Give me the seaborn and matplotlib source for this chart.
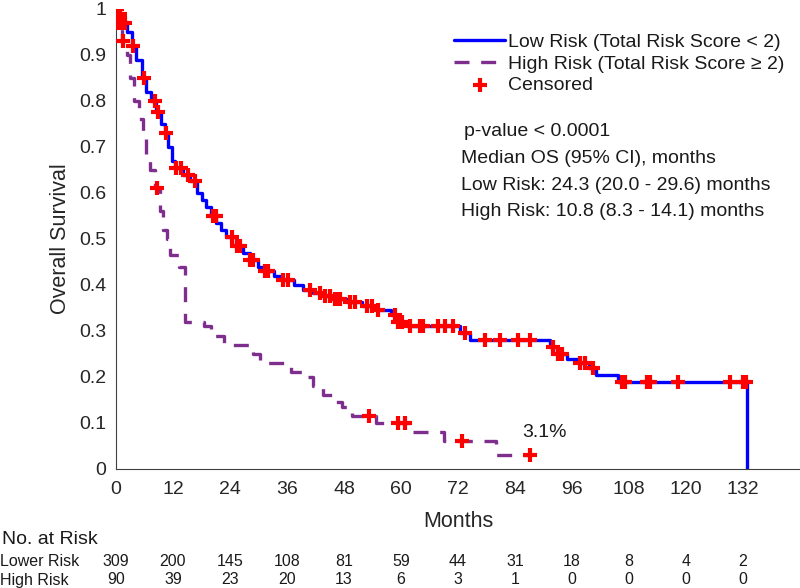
import numpy as np
import pandas as pd
import matplotlib
matplotlib.use("Agg")
import matplotlib.pyplot as plt
import matplotlib.transforms as mtransforms
import seaborn as sns

# Kaplan-Meier steps (months, survival after step)
low_t = [0, 0.5, 1.3, 2.3, 3.3, 4.3, 5.4, 6.4, 7.4, 8.4, 9.4, 10.4, 10.9, 11.8, 12.5,
         14, 15.5, 17, 18, 19, 20.1, 21.1, 22.1, 23.2, 25.2, 26.7, 28.2, 29.8, 31.3,
         33.3, 34.9, 37.4, 39.4, 41.5, 43.5, 45.5, 48.6, 51.7, 54.7, 57.8, 59.3, 61.3,
         72.5, 74.5, 91.3, 92.9, 94.9, 97.4, 99.5, 101, 105.6, 132.9]
low_s = [1.0, 0.99, 0.97, 0.95, 0.92, 0.89, 0.85, 0.82, 0.80, 0.775, 0.75, 0.73, 0.70,
         0.67, 0.655, 0.64, 0.625, 0.60, 0.585, 0.57, 0.55, 0.535, 0.52, 0.505, 0.485,
         0.47, 0.455, 0.44, 0.43, 0.42, 0.41, 0.40, 0.39, 0.383, 0.377, 0.37, 0.362,
         0.355, 0.345, 0.335, 0.32, 0.31, 0.295, 0.28, 0.265, 0.25, 0.24, 0.23, 0.22,
         0.205, 0.19, 0.0]
low_cens = [0.3, 0.8, 1.3, 1.8, 3.6, 5.8, 8.2, 8.8, 10.5, 12.7, 13.7, 15.1, 16.7, 20.4,
            21, 24.4, 25.5, 26.2, 28.2, 28.9, 31.3, 32, 35.2, 36.2, 40.9, 42.9, 44, 45,
            46, 46.6, 47.2, 49.3, 50.3, 52.9, 53.9, 55.2, 58.8, 59.4, 60.2, 61.8, 63.9,
            64.7, 67.8, 69.3, 71, 73.5, 77.7, 80.9, 84.6, 87.2, 92, 93, 93.9, 97.7,
            98.7, 100.4, 106.5, 107.2, 111.8, 112.4, 118.3, 129.3, 132, 132.6]

high_t = [0, 0.3, 1.3, 2.3, 3, 3.8, 4.8, 5.7, 6.4, 7.2, 8.2, 9.2, 9.9, 10.7, 11.4, 13.3,
          14.6, 18.6, 20.1, 22.7, 28.8, 30.3, 36.9, 39.4, 41.5, 43.5, 46, 47.6, 49.6,
          54.7, 61.8, 69, 80.1, 87.2]
high_s = [1.0, 0.97, 0.93, 0.90, 0.85, 0.80, 0.76, 0.72, 0.68, 0.65, 0.61, 0.56, 0.52,
          0.50, 0.465, 0.44, 0.32, 0.31, 0.29, 0.27, 0.25, 0.23, 0.21, 0.20, 0.18, 0.16,
          0.145, 0.135, 0.115, 0.10, 0.08, 0.06, 0.031, 0.031]
high_cens = [0.4, 1.5, 8.6, 53.2, 59.4, 60.8, 72.8, 87.2]

risk_months = [0, 12, 24, 36, 48, 60, 72, 84, 96, 108, 120, 132]
risk_low = [309, 200, 145, 108, 81, 59, 44, 31, 18, 8, 4, 2]
risk_high = [90, 39, 23, 20, 13, 6, 3, 1, 0, 0, 0, 0]


def surv_at(times, surv, t):
    idx = np.searchsorted(times, t, side="right") - 1
    return np.asarray(surv)[idx]


sns.set_style("white")
plt.rcParams["font.family"] = ["Liberation Sans", "DejaVu Sans"]

fig = plt.figure(figsize=(8, 5.88), dpi=100)
ax = fig.add_axes([0.145, 0.2024, 0.855, 0.7823])

blue = "#0000ff"
purple = "#7e2f8e"

low_df = pd.DataFrame({"t": low_t, "s": low_s})
high_df = pd.DataFrame({"t": high_t, "s": high_s})
sns.lineplot(data=low_df, x="t", y="s", ax=ax, color=blue, lw=2.4,
             drawstyle="steps-post", estimator=None, sort=False,
             label="Low Risk (Total Risk Score < 2)")
sns.lineplot(data=high_df, x="t", y="s", ax=ax, color=purple, lw=2.4,
             drawstyle="steps-post", estimator=None, sort=False,
             label="High Risk (Total Risk Score \u2265 2)")
ax.lines[1].set_dashes([4.5, 3.5])

cens_df = pd.DataFrame({
    "t": low_cens + high_cens,
    "s": list(surv_at(low_t, low_s, low_cens)) + list(surv_at(high_t, high_s, high_cens)),
})
sns.scatterplot(data=cens_df, x="t", y="s", ax=ax, marker="+", color="red",
                s=110, linewidth=3, zorder=5, label="Censored")

ax.set_xlim(0, 144)
ax.set_ylim(0, 1)
ax.set_xticks(risk_months)
ax.set_yticks(np.arange(0, 1.01, 0.1))
ax.set_yticklabels(["0"] + [f"{v:.1f}" for v in np.arange(0.1, 0.95, 0.1)] + ["1"])
ax.tick_params(direction="in", length=5, width=0.8, colors="0.25", labelsize=14,
               labelcolor="0.15")
ax.tick_params(axis="x", pad=9)
ax.tick_params(axis="y", pad=7)
ax.set_xlabel("Months", fontsize=15.5, color="0.15", labelpad=9)
ax.set_ylabel("Overall Survival", fontsize=15.5, color="0.15", labelpad=6)
sns.despine(ax=ax)
for sp in ["left", "bottom"]:
    ax.spines[sp].set_color("0.25")
    ax.spines[sp].set_linewidth(0.8)

leg = ax.legend(loc="upper left", bbox_to_anchor=(0.469, 0.985), frameon=False,
                fontsize=14, handlelength=2.6, handletextpad=0.15, labelspacing=0.2)
for txt in leg.get_texts():
    txt.set_color("0.1")

ax.text(0.509, 0.724, "p-value < 0.0001", transform=ax.transAxes, fontsize=14, color="0.1")
ax.text(0.505, 0.665, "Median OS (95% CI), months", transform=ax.transAxes, fontsize=14, color="0.1")
ax.text(0.505, 0.607, "Low Risk: 24.3 (20.0 - 29.6) months", transform=ax.transAxes, fontsize=14, color="0.1")
ax.text(0.505, 0.550, "High Risk: 10.8 (8.3 - 14.1) months", transform=ax.transAxes, fontsize=14, color="0.1")
ax.text(85.5, 0.07, "3.1%", fontsize=14, color="0.1")

# number at risk table
tr = mtransforms.blended_transform_factory(ax.transData, fig.transFigure)
fig.text(0.002, 1 - 539 / 588, "No. at Risk", fontsize=14, color="0.1", va="center")
fig.text(0.0, 1 - 562 / 588, "Lower Risk", fontsize=11.5, color="0.1", va="center")
fig.text(0.0, 1 - 580 / 588, "High Risk", fontsize=11.5, color="0.1", va="center")
for m, a, b in zip(risk_months, risk_low, risk_high):
    ax.text(m, 1 - 562 / 588, str(a), transform=tr, ha="center", va="center",
            fontsize=11.5, color="0.1", clip_on=False)
    ax.text(m, 1 - 580 / 588, str(b), transform=tr, ha="center", va="center",
            fontsize=11.5, color="0.1", clip_on=False)

fig.savefig("out.png", dpi=100)
